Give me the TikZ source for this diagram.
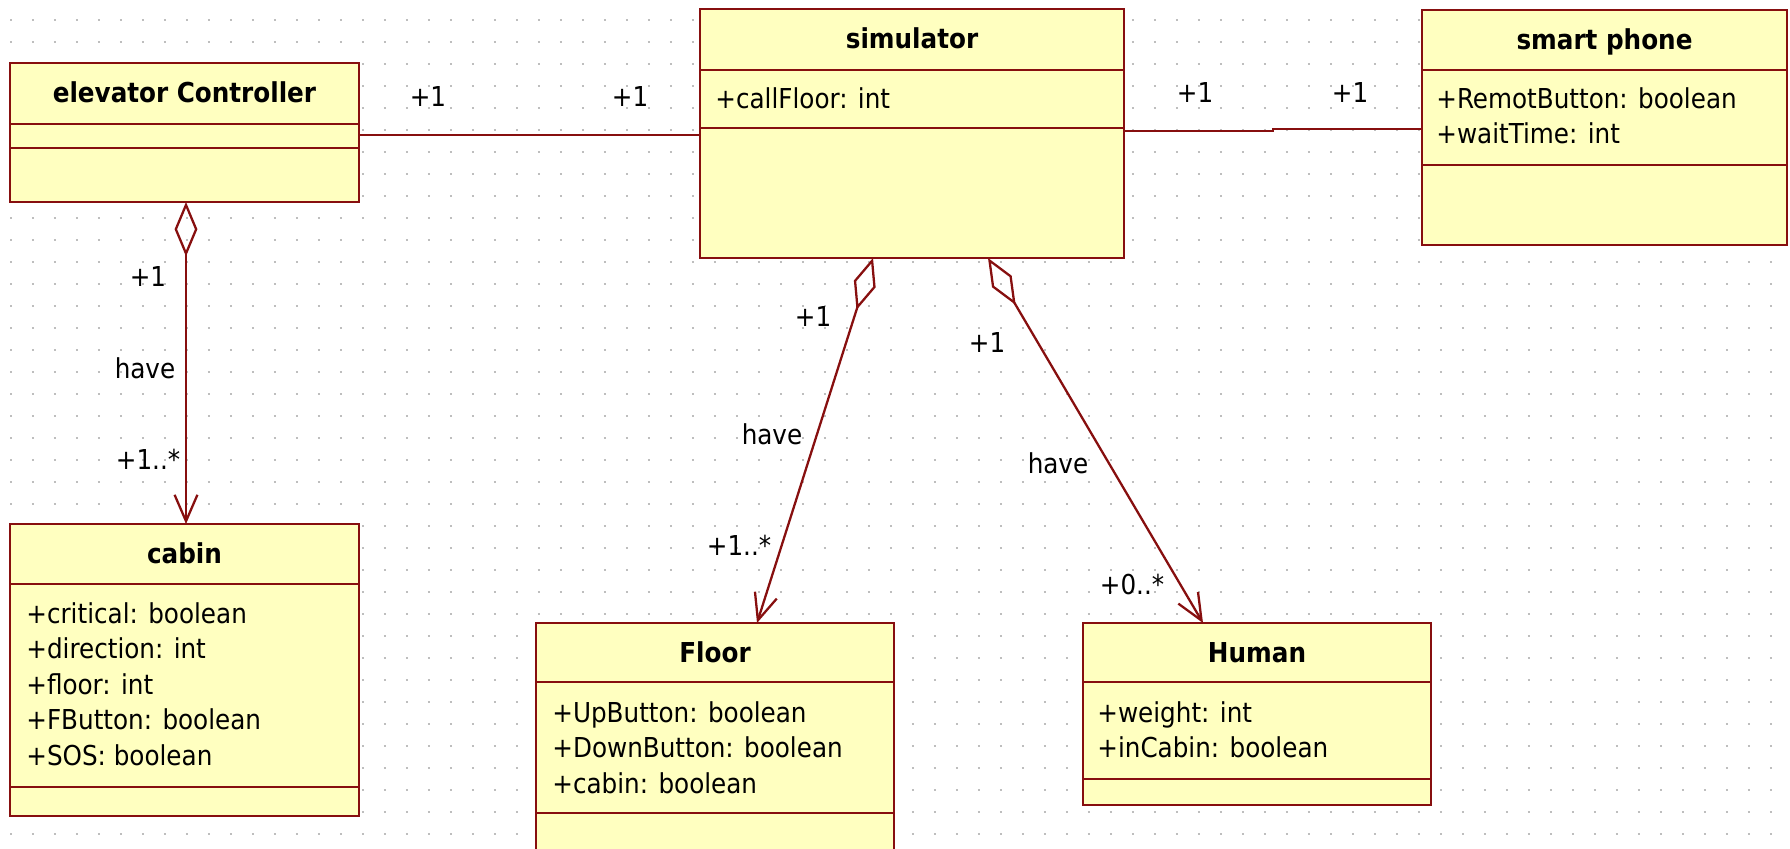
\documentclass[tikz,border=0pt]{standalone}
\usepackage{fontspec}
\setmainfont{DejaVu Sans Condensed}[BoldFont={DejaVu Sans Condensed Bold}]
\usetikzlibrary{arrows.meta}

\definecolor{umlline}{RGB}{135,15,15}
\definecolor{umlfill}{RGB}{255,255,192}
\definecolor{griddot}{RGB}{190,190,190}

\newcommand{\umlfont}{\fontsize{15.6pt}{19.9pt}\selectfont}

\tikzset{
  cls/.style={draw=umlline, fill=umlfill, line width=1.6pt, inner sep=0pt, outer sep=0pt},
  sep/.style={draw=umlline, line width=1.6pt},
  clsname/.style={font=\umlfont\bfseries, anchor=base, inner sep=0pt},
  attr/.style={font=\umlfont, anchor=base west, inner sep=0pt},
  assoc/.style={draw=umlline, line width=1.3pt},
  agg/.style={assoc, {Diamond[open, length=31pt, width=13pt]}-{Straight Barb[length=15pt, width=13pt]}},
  mult/.style={font=\umlfont, inner sep=0pt},
}

\begin{document}
\begin{tikzpicture}[x=0.02cm, y=-0.02cm]
    \useasboundingbox (0,0) rectangle (1790,848);
    \clip (0,0) rectangle (1790,848);
    % dotted grid
    \foreach \gy in {20,42,...,848}
        \draw[griddot, line width=1.1pt, dash pattern=on 1.1pt off 11.42pt] (10,\gy) -- (1790,\gy);

    % classes
    \node[cls, minimum width=6.98cm, minimum height=2.78cm] (ctrl) at (184.5,132.5) {};
    \draw[sep] (ctrl.west |- 0,124) -- (ctrl.east |- 0,124);
    \draw[sep] (ctrl.west |- 0,148) -- (ctrl.east |- 0,148);
    \node[clsname] (ctrl-name) at (184.5,103) {elevator Controller};

    \node[cls, minimum width=8.48cm, minimum height=4.98cm] (sim) at (912,133.5) {};
    \draw[sep] (sim.west |- 0,70) -- (sim.east |- 0,70);
    \draw[sep] (sim.west |- 0,128) -- (sim.east |- 0,128);
    \node[clsname] (sim-name) at (912,49) {simulator};
    \node[attr] (sim-a1) at (715,109) {+callFloor: int};

    \node[cls, minimum width=7.30cm, minimum height=4.70cm] (phone) at (1604.5,127.5) {};
    \draw[sep] (phone.west |- 0,70) -- (phone.east |- 0,70);
    \draw[sep] (phone.west |- 0,165) -- (phone.east |- 0,165);
    \node[clsname] (phone-name) at (1604.5,50) {smart phone};
    \foreach \t [count=\i] in {+RemotButton: boolean, +waitTime: int}
        \node[attr] (phone-a\i) at (1436, 75+34*\i) {\t};

    \node[cls, minimum width=6.98cm, minimum height=5.84cm] (cabin) at (184.5,670) {};
    \draw[sep] (cabin.west |- 0,584) -- (cabin.east |- 0,584);
    \draw[sep] (cabin.west |- 0,787) -- (cabin.east |- 0,787);
    \node[clsname] (cabin-name) at (184.5,563) {cabin};
    \foreach \t [count=\i] in {+critical: boolean, +direction: int, +floor: int, +FButton: boolean, +SOS: boolean}
        \node[attr] (cabin-a\i) at (26, 587.5+35.5*\i) {\t};

    \node[cls, minimum width=7.16cm, minimum height=5.54cm] (floor) at (715,761.5) {};
    \draw[sep] (floor.west |- 0,682) -- (floor.east |- 0,682);
    \draw[sep] (floor.west |- 0,813) -- (floor.east |- 0,813);
    \node[clsname] (floor-name) at (715,662) {Floor};
    \foreach \t [count=\i] in {+UpButton: boolean, +DownButton: boolean, +cabin: boolean}
        \node[attr] (floor-a\i) at (552, 686.5+35.5*\i) {\t};

    \node[cls, minimum width=6.96cm, minimum height=3.64cm] (human) at (1257,714) {};
    \draw[sep] (human.west |- 0,682) -- (human.east |- 0,682);
    \draw[sep] (human.west |- 0,779) -- (human.east |- 0,779);
    \node[clsname] (human-name) at (1257,662) {Human};
    \foreach \t [count=\i] in {+weight: int, +inCabin: boolean}
        \node[attr] (human-a\i) at (1097, 686.5+35.5*\i) {\t};

    % associations
    \draw[assoc] (ctrl.east |- 0,135) -- (sim.west |- 0,135);
    \coordinate (jog) at (1273,131);
    \draw[assoc] (sim.east |- 0,131) -- (jog) |- (phone.west |- 0,129);
    \draw[agg] (ctrl.south -| 186,0) -- (cabin.north -| 186,0);
    \draw[agg] (sim.south -| 873,0) -- (floor.north -| 757,0);
    \draw[agg] (sim.south -| 988,0) -- (human.north -| 1203,0);

    % multiplicities and roles
    \node[mult] (m-ctrl) at (428,97) {+1};
    \node[mult] (m-sim1) at (630,97) {+1};
    \node[mult] (m-sim2) at (1195,93) {+1};
    \node[mult] (m-phone) at (1350,93) {+1};
    \node[mult] (m-agg1) at (148,277) {+1};
    \node[mult] (r-agg1) at (145,368) {have};
    \node[mult] (m-cabin) at (148,459) {+1..*};
    \node[mult] (m-agg2) at (813,317) {+1};
    \node[mult] (r-agg2) at (772,434) {have};
    \node[mult] (m-floor) at (739,545) {+1..*};
    \node[mult] (m-agg3) at (987,343) {+1};
    \node[mult] (r-agg3) at (1058,463) {have};
    \node[mult] (m-human) at (1132,585) {+0..*};
\end{tikzpicture}
\end{document}
